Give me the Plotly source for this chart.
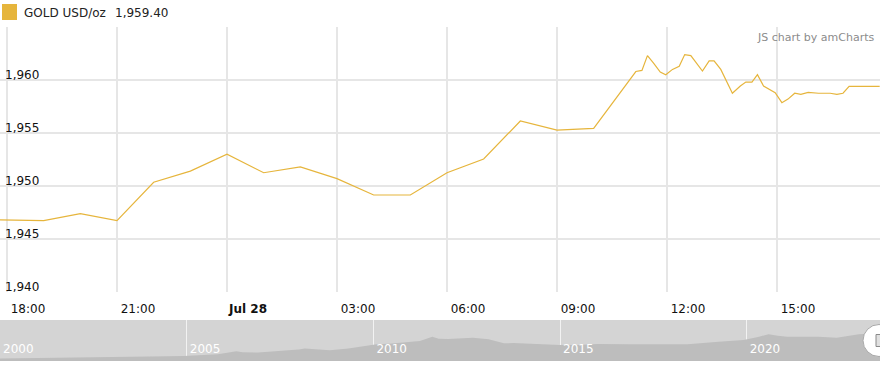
import plotly.graph_objects as go

# ---- main series (GOLD USD/oz, Jul 27-28) ----
times = [
    "2023-07-27 17:48", "2023-07-27 19:00", "2023-07-27 20:00", "2023-07-27 21:00",
    "2023-07-27 22:00", "2023-07-27 23:00", "2023-07-28 00:00", "2023-07-28 01:00",
    "2023-07-28 02:00", "2023-07-28 03:00", "2023-07-28 04:00", "2023-07-28 05:00",
    "2023-07-28 06:00", "2023-07-28 07:00", "2023-07-28 08:00", "2023-07-28 09:00",
    "2023-07-28 10:00", "2023-07-28 10:55", "2023-07-28 11:09", "2023-07-28 11:19",
    "2023-07-28 11:28", "2023-07-28 11:38", "2023-07-28 11:49", "2023-07-28 11:58",
    "2023-07-28 12:09", "2023-07-28 12:20", "2023-07-28 12:29", "2023-07-28 12:39",
    "2023-07-28 12:58", "2023-07-28 13:09", "2023-07-28 13:17", "2023-07-28 13:28",
    "2023-07-28 13:47", "2023-07-28 14:00", "2023-07-28 14:09", "2023-07-28 14:19",
    "2023-07-28 14:28", "2023-07-28 14:38", "2023-07-28 14:57", "2023-07-28 15:08",
    "2023-07-28 15:18", "2023-07-28 15:29", "2023-07-28 15:39", "2023-07-28 15:51",
    "2023-07-28 16:08", "2023-07-28 16:27", "2023-07-28 16:38", "2023-07-28 16:48",
    "2023-07-28 16:58", "2023-07-28 17:48",
]
prices = [
    1946.80, 1946.73, 1947.40, 1946.73,
    1950.35, 1951.40, 1953.00, 1951.25,
    1951.80, 1950.70, 1949.15, 1949.15,
    1951.25, 1952.55, 1956.13, 1955.28,
    1955.44, 1959.70, 1960.80, 1960.90,
    1962.30, 1961.60, 1960.75, 1960.50,
    1961.00, 1961.30, 1962.40, 1962.30,
    1960.85, 1961.80, 1961.80, 1961.00,
    1958.75, 1959.43, 1959.80, 1959.80,
    1960.50, 1959.43, 1958.80, 1957.86,
    1958.20, 1958.75, 1958.65, 1958.84,
    1958.75, 1958.75, 1958.65, 1958.75,
    1959.40, 1959.40,
]

x_tick_vals = ["2023-07-27 18:00", "2023-07-27 21:00", "2023-07-28 00:00", "2023-07-28 03:00",
               "2023-07-28 06:00", "2023-07-28 09:00", "2023-07-28 12:00", "2023-07-28 15:00"]
x_tick_text = ["18:00", "21:00", "<b>Jul 28</b>", "03:00", "06:00", "09:00", "12:00", "15:00"]
y_tick_vals = [1940, 1945, 1950, 1955, 1960, 1965]
y_tick_text = ["1,940", "1,945", "1,950", "1,955", "1,960", ""]

# ---- scrollbar overview series (2000 - 2023) ----
scroll_dates = [
    "2000-01-01", "2001-05-01", "2002-09-01", "2004-01-01", "2004-12-01", "2005-06-01",
    "2005-11-01", "2006-05-01", "2006-07-01", "2006-12-01", "2007-07-01", "2008-01-01",
    "2008-03-01", "2008-06-01", "2008-11-01", "2009-05-01", "2009-12-01", "2010-02-01",
    "2010-06-01", "2010-09-01", "2011-04-01", "2011-08-01", "2011-10-01", "2012-01-01",
    "2012-06-01", "2012-09-01", "2013-02-01", "2013-07-01", "2013-10-01", "2014-03-01",
    "2015-01-01", "2015-07-01", "2016-01-01", "2016-11-01", "2017-09-01", "2018-06-01",
    "2019-04-01", "2019-12-01", "2020-05-01", "2020-08-01", "2020-11-01", "2021-02-01",
    "2021-12-01", "2022-06-01", "2023-01-01", "2023-07-28",
]
scroll_prices = [
    280, 318, 355, 430, 475, 535,
    603, 828, 738, 730, 835, 955,
    1030, 963, 903, 1030, 1225, 1330,
    1375, 1450, 1578, 1900, 1750, 1728,
    1788, 1825, 1705, 1405, 1428, 1375,
    1278, 1278, 1353, 1330, 1353, 1330,
    1525, 1653, 1900, 2080, 1975, 1900,
    1900, 1825, 2080, 2155,
]
scroll_tick_vals = ["2000-01-01", "2005-01-01", "2010-01-01", "2015-01-01", "2020-01-01"]
scroll_tick_text = ["2000", "2005", "2010", "2015", "2020"]

GOLD = "#E6B53C"
GRID = "#e6e6e6"
FONT = "DejaVu Sans"

W, H = 880, 368
M_T, M_B = 27, 7
plot_h = H - M_T - M_B
main_bottom = (H - M_B - 292) / plot_h
scroll_top = (361 - 320) / plot_h

fig = go.Figure()
fig.add_trace(go.Scatter(
    x=times, y=prices, mode="lines", line=dict(color=GOLD, width=1.2),
    xaxis="x", yaxis="y", hoverinfo="x+y", showlegend=False,
))
fig.add_trace(go.Scatter(
    x=scroll_dates, y=scroll_prices, mode="lines", line=dict(width=0, color="#bdbdbd"),
    fill="tozeroy", fillcolor="#bdbdbd", xaxis="x2", yaxis="y2",
    hoverinfo="skip", showlegend=False,
))

fig.update_layout(
    width=W, height=H,
    margin=dict(l=0, r=0, t=M_T, b=M_B),
    paper_bgcolor="white", plot_bgcolor="white",
    font=dict(family=FONT, size=12, color="#000000"),
    showlegend=False,
    xaxis=dict(
        type="date", domain=[0, 1], anchor="y",
        range=["2023-07-27 17:48:33", "2023-07-28 17:48:33"],
        tickmode="array", tickvals=x_tick_vals, ticktext=x_tick_text,
        showgrid=True, gridcolor=GRID, gridwidth=1.6,
        showline=False, zeroline=False, ticks="",
        ticklabelshift=21, ticklabelstandoff=8, ticklabeloverflow="allow",
        tickfont=dict(family=FONT, size=12, color="#111111"),
        fixedrange=True,
    ),
    yaxis=dict(
        domain=[main_bottom, 1], anchor="x",
        range=[1940, 1965],
        tickmode="array", tickvals=y_tick_vals, ticktext=y_tick_text,
        showgrid=True, gridcolor=GRID, gridwidth=1.6,
        showline=False, zeroline=False, ticks="",
        ticklabelposition="inside", ticklabelshift=-5, ticklabelstandoff=2,
        ticklabeloverflow="allow",
        tickfont=dict(family=FONT, size=12, color="#111111"),
        fixedrange=True,
    ),
    xaxis2=dict(
        type="date", domain=[0, 1], anchor="y2",
        range=["2000-01-01", "2023-07-28"],
        tickmode="array", tickvals=scroll_tick_vals, ticktext=scroll_tick_text,
        showgrid=True, gridcolor="#f2f2f2", gridwidth=1,
        showline=False, zeroline=False, ticks="",
        ticklabelposition="inside right", ticklabelshift=3, ticklabelstandoff=0,
        ticklabeloverflow="allow",
        tickfont=dict(family=FONT, size=12, color="#ffffff"),
        fixedrange=True,
    ),
    yaxis2=dict(
        domain=[0, scroll_top], anchor="x2",
        range=[100, 3130], visible=False, fixedrange=True,
    ),
    shapes=[
        # scrollbar background
        dict(type="rect", xref="x2 domain", yref="y2 domain", x0=0, x1=1, y0=0, y1=1,
             fillcolor="#d4d4d4", line=dict(width=0), layer="below"),
        # legend marker
        dict(type="rect", xref="paper", yref="paper", xsizemode="pixel", ysizemode="pixel",
             xanchor=0, yanchor=1, x0=2, x1=17, y0=7, y1=23,
             fillcolor=GOLD, line=dict(width=0)),
        # scrollbar grip
        dict(type="circle", xref="paper", yref="y2 domain", xsizemode="pixel", ysizemode="pixel",
             xanchor=1, yanchor=0.5, x0=-17, x1=15, y0=-16, y1=16,
             fillcolor="white", line=dict(color="#a8a8a8", width=1)),
        dict(type="rect", xref="paper", yref="y2 domain", xsizemode="pixel", ysizemode="pixel",
             xanchor=1, yanchor=0.5, x0=-4, x1=3, y0=-6, y1=6,
             fillcolor="#e0e0e0", line=dict(color="#8a8a8a", width=1)),
    ],
    annotations=[
        dict(xref="paper", yref="paper", x=0, y=1, xshift=22, yshift=14,
             xanchor="left", yanchor="middle", showarrow=False,
             text="GOLD USD/oz", font=dict(family=FONT, size=12, color="#222222")),
        dict(xref="paper", yref="paper", x=0, y=1, xshift=113, yshift=14,
             xanchor="left", yanchor="middle", showarrow=False,
             text=f"{prices[-1]:,.2f}", font=dict(family=FONT, size=12, color="#222222")),
        dict(xref="paper", yref="paper", x=1, y=1, xshift=-4, yshift=-10,
             xanchor="right", yanchor="middle", showarrow=False,
             text="JS chart by amCharts", font=dict(family=FONT, size=11, color="#8c8c8c")),
    ],
)

fig.write_html("out.html")
